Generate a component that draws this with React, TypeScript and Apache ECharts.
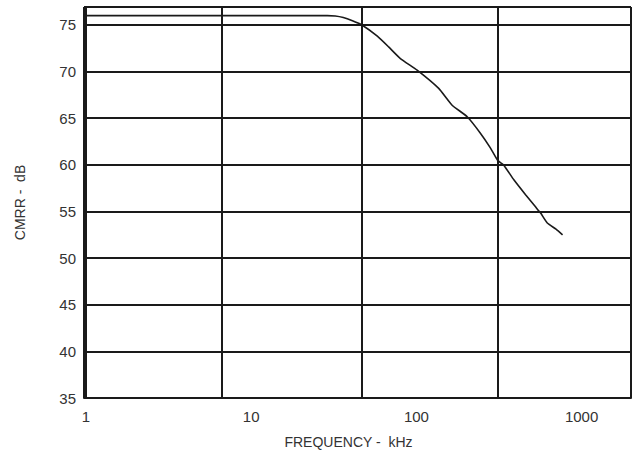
import React, { useEffect, useRef } from 'react';
import * as echarts from 'echarts';

// Measured curve: CMRR (dB) vs frequency (kHz)
const freqKHz = [0.9725, 5, 20, 28.9, 32.3, 36.1, 41, 46.8, 58, 67.9, 80, 101, 136.5, 164.5, 203, 244, 281, 310, 338, 389, 458, 526, 565, 620, 700, 767];
const cmrrDb = [76, 76, 76, 76, 75.97, 75.8, 75.45, 75.0, 73.8, 72.65, 71.4, 70.16, 68.2, 66.4, 65.16, 63.4, 61.8, 60.5, 59.97, 58.4, 56.8, 55.5, 54.83, 53.76, 53.1, 52.5];

// Axis tick labels (kHz) and vertical grid lines (kHz) as printed on the sheet
const xTickKHz = [1, 10, 100, 1000];
const xTickLabels = ['1', '10', '100', '1000'];
const gridLineKHz = [6.66, 46.8, 310.5];
const xMinKHz = 0.9725;
const xMaxKHz = 1991;

const yMin = 35;
const yMax = 76.93;
const yStep = 5;

const INK = '#1a1a1a';
const TEXT = '#333333';
const FONT = '"Liberation Sans", Arial, sans-serif';

export default function App() {
  const ref = useRef<HTMLDivElement>(null);

  useEffect(() => {
    if (!ref.current) return;
    const chart = echarts.init(ref.current, null, { renderer: 'svg' });
    const lg = Math.log10;
    const xmin = lg(xMinKHz);
    const xmax = lg(xMaxKHz);

    chart.setOption({
      animation: false,
      backgroundColor: '#ffffff',
      grid: { left: 84, right: 5, top: 7, bottom: 55 },
      xAxis: {
        type: 'value',
        min: xmin,
        max: xmax,
        name: 'FREQUENCY -  kHz',
        nameLocation: 'middle',
        nameGap: 37,
        nameTextStyle: { color: TEXT, fontSize: 14, fontFamily: FONT, padding: [0, 18, 0, 0] },
        axisLine: { show: true, lineStyle: { color: INK, width: 2 } },
        axisTick: { show: false, customValues: [xmin, ...gridLineKHz.map(lg), xmax] },
        splitLine: { show: true, lineStyle: { color: INK, width: 2 } },
        axisLabel: {
          customValues: xTickKHz.map(lg),
          formatter: (v: number) => {
            const i = xTickKHz.findIndex((k) => Math.abs(lg(k) - v) < 1e-6);
            return i >= 0 ? xTickLabels[i] : '';
          },
          margin: 11,
          fontSize: 15,
          color: TEXT,
          fontFamily: FONT,
        },
      },
      yAxis: {
        type: 'value',
        min: yMin,
        max: yMax,
        interval: yStep,
        name: 'CMRR -  dB',
        nameLocation: 'middle',
        nameGap: 57,
        nameTextStyle: { color: TEXT, fontSize: 14, fontFamily: FONT },
        axisLine: { show: true, lineStyle: { color: INK, width: 2 } },
        axisTick: { show: false },
        splitLine: { show: true, lineStyle: { color: INK, width: 2 } },
        axisLabel: {
          formatter: (v: number) => (Math.abs(v % yStep) < 1e-6 ? String(v) : ''),
          margin: 8,
          fontSize: 15,
          color: TEXT,
          fontFamily: FONT,
        },
      },
      series: [
        {
          type: 'line',
          data: freqKHz.map((f, i) => [lg(f), cmrrDb[i]]),
          showSymbol: false,
          smooth: 0.15,
          lineStyle: { color: INK, width: 1.6 },
          z: 5,
        },
      ],
    });

    return () => chart.dispose();
  }, []);

  return (
    <div
      ref={ref}
      style={{ position: 'fixed', left: 0, top: 0, width: 636, height: 454, background: '#fff' }}
    />
  );
}
